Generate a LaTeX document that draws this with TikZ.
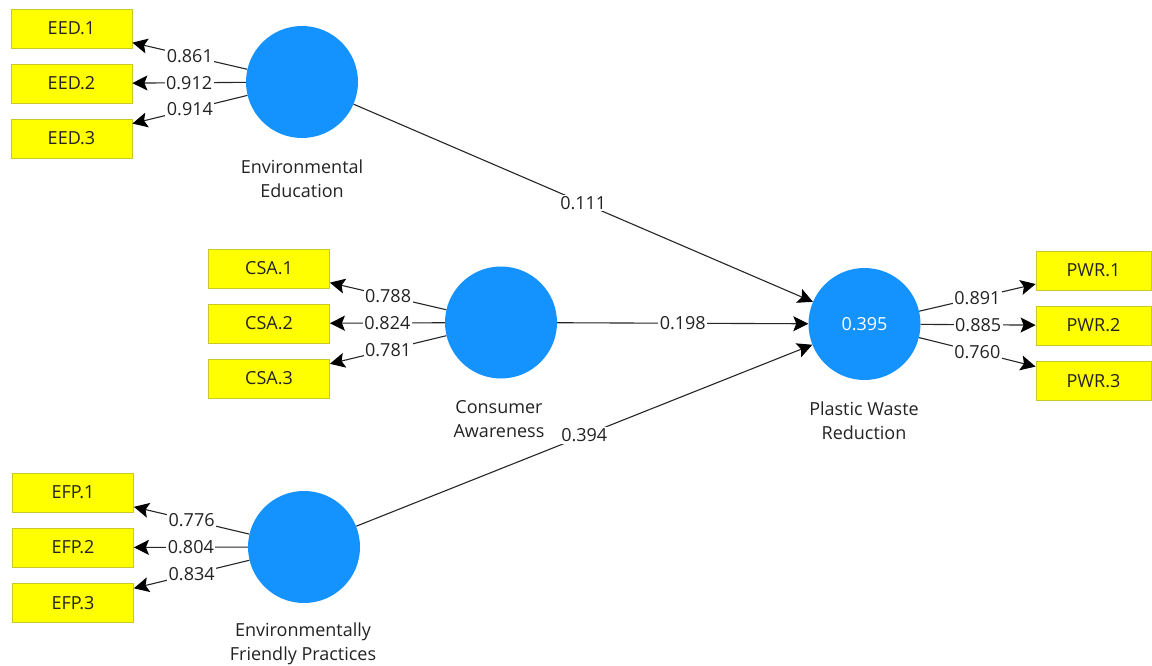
\documentclass[tikz,border=0pt]{standalone}
\usepackage{fontspec}
\setmainfont{Open Sans}
\usetikzlibrary{arrows.meta}
\definecolor{lvblue}{RGB}{20,147,255}
\definecolor{indyellow}{RGB}{255,255,0}
\definecolor{indborder}{RGB}{200,200,40}
\definecolor{txt}{RGB}{35,35,35}
\begin{document}
\begin{tikzpicture}[x=1pt,y=-1pt, font=\fontsize{18}{24}\selectfont,
  ind/.style={draw=indborder, fill=indyellow, minimum width=121pt, minimum height=39pt, inner sep=0pt, line width=0.8pt, text=txt},
  lv/.style={circle, fill=lvblue, minimum size=112pt, inner sep=0pt, text=white},
  ld/.style={-{Stealth[length=15pt,width=15pt,inset=3pt,fill=black,color=black]}, line width=1.1pt, black!85},
  val/.style={midway, fill=white, inner sep=1.5pt, text=txt},
  lbl/.style={align=center, text=txt}]
\useasboundingbox (0,0) rectangle (1152,666);
\fill[white] (0,0) rectangle (1152,666);

% latent variables
\node[lv] (eed) at (302,82) {};
\node[lv] (csa) at (501,322.5) {};
\node[lv] (efp) at (304,547) {};
\node[lv] (pwr) at (864.5,324) {0.395};

% latent labels
\node[lbl] (eedl) at (302,179) {Environmental\\Education};
\node[lbl] (csal) at (499,419.5) {Consumer\\Awareness};
\node[lbl] (efpl) at (303,643.5) {Environmentally\\Friendly Practices};
\node[lbl] (pwrl) at (864,420.5) {Plastic Waste\\Reduction};

% indicators
\node[ind] (eed1) at (71.5,28.5) {EED.1};
\node[ind] (eed2) at (71.5,83.5) {EED.2};
\node[ind] (eed3) at (71.5,138.5) {EED.3};
\node[ind] (csa1) at (269,268.5) {CSA.1};
\node[ind] (csa2) at (269,323.5) {CSA.2};
\node[ind] (csa3) at (269,378.5) {CSA.3};
\node[ind] (efp1) at (73,492.5) {EFP.1};
\node[ind] (efp2) at (73,547.5) {EFP.2};
\node[ind] (efp3) at (73,603) {EFP.3};
\node[ind, minimum width=115pt] (pwr1) at (1093.5,270.5) {PWR.1};
\node[ind, minimum width=115pt] (pwr2) at (1093.5,325.5) {PWR.2};
\node[ind, minimum width=115pt] (pwr3) at (1093.5,381) {PWR.3};

% outer loadings
\draw[ld] (eed) -- node[val]{0.861} (eed1);
\draw[ld] (eed) -- node[val]{0.912} (eed2);
\draw[ld] (eed) -- node[val]{0.914} (eed3);
\draw[ld] (csa) -- node[val]{0.788} (csa1);
\draw[ld] (csa) -- node[val]{0.824} (csa2);
\draw[ld] (csa) -- node[val]{0.781} (csa3);
\draw[ld] (efp) -- node[val]{0.776} (efp1);
\draw[ld] (efp) -- node[val]{0.804} (efp2);
\draw[ld] (efp) -- node[val]{0.834} (efp3);
\draw[ld] (pwr) -- node[val]{0.891} (pwr1);
\draw[ld] (pwr) -- node[val]{0.885} (pwr2);
\draw[ld] (pwr) -- node[val]{0.760} (pwr3);

% structural paths
\draw[ld] (eed) -- node[val]{0.111} (pwr);
\draw[ld] (csa) -- node[val]{0.198} (pwr);
\draw[ld] (efp) -- node[val]{0.394} (pwr);
\end{tikzpicture}
\end{document}
